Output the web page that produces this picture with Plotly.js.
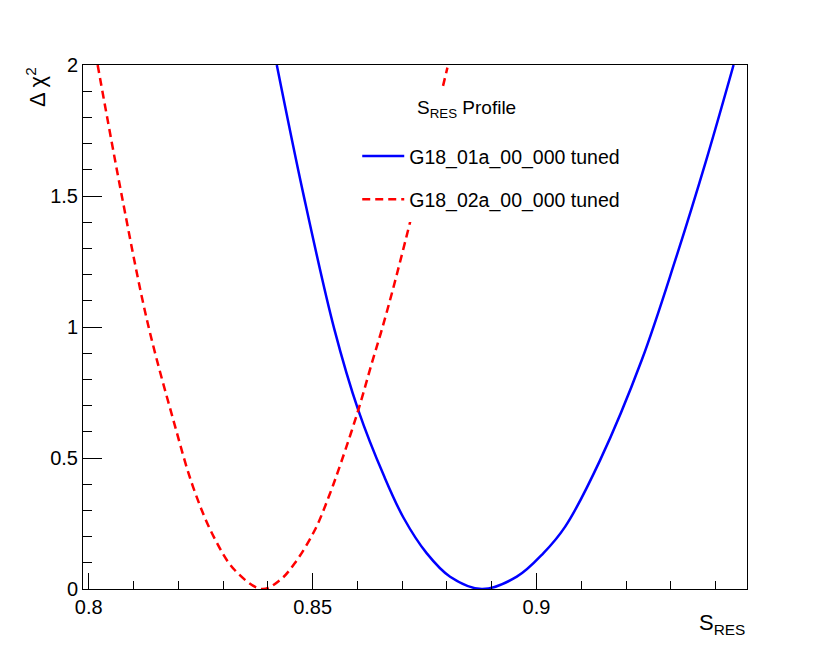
<!DOCTYPE html>
<html>
<head>
<meta charset="utf-8">
<script src="https://cdn.plot.ly/plotly-3.0.1.min.js"></script>
<style>html,body{margin:0;padding:0;background:#fff;}#chart{width:830px;height:655px;}</style>
</head>
<body>
<div id="chart"></div>
<script>
// Series 1: G18_01a_00_000 tuned (blue, solid)
const blueName = "G18_01a_00_000 tuned";
const blueX = [0.8420, 0.8479, 0.8548, 0.8602, 0.8660, 0.8703, 0.8755, 0.8807, 0.8878,
               0.8956, 0.9015, 0.9064, 0.9142, 0.9235, 0.9310, 0.9379, 0.9440];
const blueY = [2.00, 1.51, 0.995, 0.683, 0.429, 0.272, 0.136, 0.047, 0.0,
               0.047, 0.136, 0.238, 0.492, 0.874, 1.256, 1.637, 2.00];

// Series 2: G18_02a_00_000 tuned (red, dashed)
const redName = "G18_02a_00_000 tuned";
const redX = [0.8020, 0.8074, 0.8131, 0.8189, 0.8233, 0.8279, 0.8326, 0.8387,
              0.8427, 0.8460, 0.8505, 0.8536, 0.8563, 0.8602, 0.8632, 0.8652, 0.8677, 0.8717, 0.8801];
const redY = [2.00, 1.50, 1.02, 0.645, 0.39, 0.20, 0.0725, 0.0,
              0.034, 0.098, 0.225, 0.352, 0.48, 0.683, 0.861, 0.975, 1.129, 1.396, 1.99];

const legendTitle = "S<sub>RES</sub> Profile";
const xTitle = "S<sub>RES</sub>";
const yTitle = "\u0394 \u03C7<sup>2</sup>";

const FONT = "Liberation Sans, Arial, Helvetica, sans-serif";

const traces = [
  {x: blueX, y: blueY, type: "scatter", mode: "lines", name: blueName,
   legendgroup: "a", line: {color: "#0000ff", width: 2.5, shape: "spline", smoothing: 1.0}},
  {x: redX, y: redY, type: "scatter", mode: "lines", name: redName,
   legendgroup: "b", line: {color: "#ff0000", width: 2.5, dash: "8px,5px", shape: "spline", smoothing: 1.0}}
];

const axisCommon = {
  showgrid: false, zeroline: false, showline: true, mirror: true,
  linecolor: "#000", linewidth: 1, ticks: "inside", tickcolor: "#000", tickwidth: 1,
  tickfont: {family: FONT, size: 20, color: "#000"}
};

const px2x = p => (p - 83) / 664;
const px2y = p => 1 - (p - 65) / 524;

const layout = {
  width: 830, height: 655,
  paper_bgcolor: "#fff", plot_bgcolor: "#fff",
  margin: {l: 83, r: 83, t: 65, b: 66},
  font: {family: FONT, color: "#000"},
  xaxis: Object.assign({}, axisCommon, {
    range: [0.798726, 0.947], tick0: 0.8, dtick: 0.05, ticklen: 16,
    minor: {ticks: "inside", dtick: 0.01, tick0: 0.8, ticklen: 8, tickcolor: "#000", tickwidth: 1}
  }),
  yaxis: Object.assign({}, axisCommon, {
    range: [0, 2], tick0: 0, dtick: 0.5, ticklen: 19,
    minor: {ticks: "inside", dtick: 0.1, tick0: 0, ticklen: 9, tickcolor: "#000", tickwidth: 1}
  }),
  showlegend: true,
  legend: {
    x: 0.413, y: 0.863, xanchor: "left", yanchor: "top",
    bgcolor: "#fff", borderwidth: 0,
    font: {family: FONT, size: 19.5, color: "#000"},
    itemwidth: 42,
    traceorder: "grouped", tracegroupgap: 15
  },
  shapes: [
    {type: "rect", xref: "paper", yref: "paper", layer: "above",
     x0: px2x(357), x1: px2x(622), y0: px2y(222), y1: px2y(87),
     fillcolor: "#fff", line: {width: 0}}
  ],
  annotations: [
    {text: legendTitle, xref: "paper", yref: "paper", x: px2x(415), y: px2y(95),
     xanchor: "left", yanchor: "top", showarrow: false, font: {family: FONT, size: 19, color: "#000"}},
    {text: xTitle, xref: "paper", yref: "paper", x: 1.0, y: -(608 - 589) / 524,
     xanchor: "right", yanchor: "top", showarrow: false, font: {family: FONT, size: 22, color: "#000"}},
    {text: yTitle, xref: "paper", yref: "paper", x: px2x(20), y: 1.0,
     xanchor: "left", yanchor: "top", textangle: -90, showarrow: false, font: {family: FONT, size: 22, color: "#000"}}
  ]
};

Plotly.newPlot("chart", traces, layout, {displayModeBar: false, staticPlot: true});
</script>
</body>
</html>
